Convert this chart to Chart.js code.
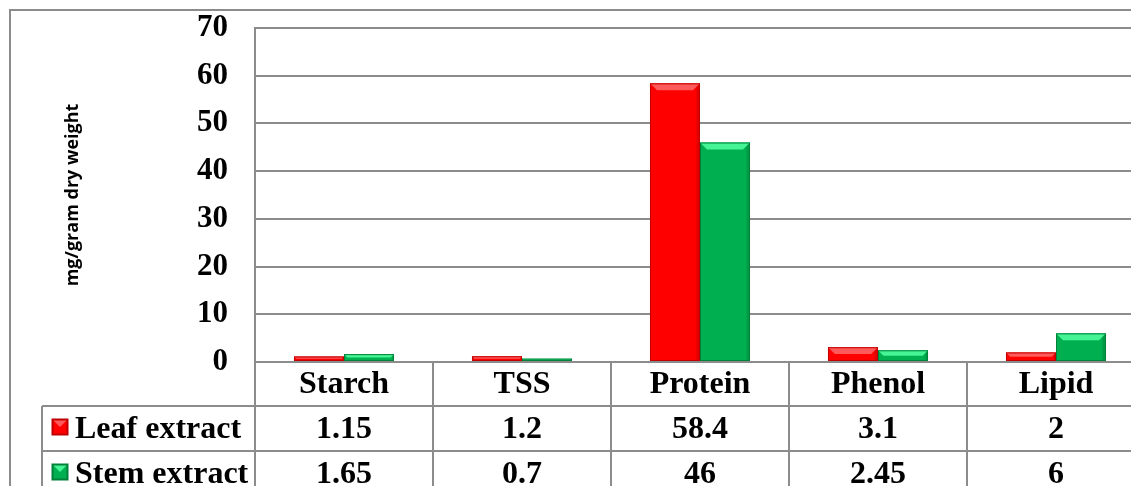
<!DOCTYPE html>
<html>
<head>
<meta charset="utf-8">
<title>mg/gram dry weight</title>
<script src="https://cdn.jsdelivr.net/npm/chart.js@4/dist/chart.umd.min.js"></script>
<style>
  html, body { margin: 0; padding: 0; background: #fff; overflow: hidden; }
  #wrap { width: 1131px; height: 486px; overflow: hidden; }
</style>
</head>
<body>
<div id="wrap"><canvas id="chart" width="1150" height="486"></canvas></div>
<script>
const categories = ['Starch', 'TSS', 'Protein', 'Phenol', 'Lipid'];
const leafValues = [1.15, 1.2, 58.4, 3.1, 2];
const stemValues = [1.65, 0.7, 46, 2.45, 6];
const seriesNames = ['Leaf extract', 'Stem extract'];
const yTicks = [0, 10, 20, 30, 40, 50, 60, 70];

const LINE = '#8c8c8c';
const SERIF = '"Liberation Serif", "Times New Roman", serif';
const colors = [
  { fill: '#ff0000', light: '#ff5a5a', dark: '#c00000' },
  { fill: '#00b050', light: '#45f595', dark: '#00803a' }
];

// bevel look on top of each bar
const bevelPlugin = {
  id: 'bevel',
  afterDatasetsDraw(chart) {
    const ctx = chart.ctx;
    chart.data.datasets.forEach((ds, di) => {
      const c = colors[di];
      chart.getDatasetMeta(di).data.forEach(bar => {
        const l = bar.x - bar.width / 2, r = bar.x + bar.width / 2;
        const t = bar.y, b = bar.base;
        const h = b - t;
        const bv = Math.min(7, h / 2, bar.width / 4);
        ctx.save();
        ctx.fillStyle = c.light;
        ctx.beginPath();
        ctx.moveTo(l, t); ctx.lineTo(r, t); ctx.lineTo(r - bv, t + bv); ctx.lineTo(l + bv, t + bv);
        ctx.closePath(); ctx.fill();
        ctx.fillStyle = 'rgba(0,0,0,0.12)';
        ctx.beginPath();
        ctx.moveTo(r, t); ctx.lineTo(r, b); ctx.lineTo(r - bv / 2, b); ctx.lineTo(r - bv / 2, t + bv / 2);
        ctx.closePath(); ctx.fill();
        ctx.strokeStyle = c.dark;
        ctx.lineWidth = 1;
        ctx.strokeRect(l + 0.5, t + 0.5, bar.width - 1, h - 1);
        ctx.restore();
      });
    });
  }
};

function legendKey(ctx, x, y, s, c) {
  ctx.fillStyle = c.fill;
  ctx.fillRect(x, y, s, s);
  ctx.fillStyle = c.light;
  ctx.beginPath();
  ctx.moveTo(x, y); ctx.lineTo(x + s, y); ctx.lineTo(x + s / 2, y + s / 2);
  ctx.closePath(); ctx.fill();
  ctx.strokeStyle = c.dark;
  ctx.strokeRect(x + 0.5, y + 0.5, s - 1, s - 1);
}

// data table under the plot + outer frame
const tablePlugin = {
  id: 'dataTable',
  afterDraw(chart) {
    const ctx = chart.ctx;
    const area = chart.chartArea;
    const xs = chart.scales.x;
    const H = chart.height;
    const row1 = area.bottom + 44, row2 = row1 + 45;
    const keyLeft = 42;
    const bounds = [area.left];
    for (let i = 0; i < categories.length - 1; i++) {
      bounds.push((xs.getPixelForValue(i) + xs.getPixelForValue(i + 1)) / 2);
    }
    bounds.push(area.right);

    ctx.save();
    ctx.strokeStyle = LINE;
    ctx.lineWidth = 2;
    ctx.beginPath();
    ctx.moveTo(keyLeft, row1); ctx.lineTo(area.right, row1);
    ctx.moveTo(keyLeft, row2); ctx.lineTo(area.right, row2);
    ctx.moveTo(keyLeft, row1); ctx.lineTo(keyLeft, H);
    bounds.forEach(bx => { ctx.moveTo(bx, area.bottom); ctx.lineTo(bx, H); });
    ctx.moveTo(area.left, area.top); ctx.lineTo(area.left, H);
    ctx.stroke();

    // outer frame
    ctx.beginPath();
    ctx.moveTo(10, H); ctx.lineTo(10, 10); ctx.lineTo(chart.width, 10);
    ctx.stroke();

    ctx.font = 'bold 32px ' + SERIF;
    ctx.textBaseline = 'alphabetic';
    const rows = [[leafValues, row1 + 32], [stemValues, row2 + 32]];
    rows.forEach(([vals, base], ri) => {
      legendKey(ctx, 52, base - 19, 16, colors[ri]);
      ctx.fillStyle = '#000';
      ctx.textAlign = 'left';
      ctx.fillText(seriesNames[ri], 75, base);
      ctx.textAlign = 'center';
      vals.forEach((v, i) => {
        ctx.fillText(String(v), xs.getPixelForValue(i), base);
      });
    });
    ctx.restore();
  }
};

new Chart(document.getElementById('chart'), {
  type: 'bar',
  data: {
    labels: categories,
    datasets: [
      { label: seriesNames[0], data: leafValues, backgroundColor: colors[0].fill },
      { label: seriesNames[1], data: stemValues, backgroundColor: colors[1].fill }
    ]
  },
  options: {
    responsive: false,
    animation: false,
    devicePixelRatio: 1,
    layout: { padding: { top: 28, left: 10, right: 5, bottom: 0 } },
    datasets: { bar: { categoryPercentage: 0.562, barPercentage: 1 } },
    plugins: { legend: { display: false }, tooltip: { enabled: false } },
    scales: {
      x: {
        grid: { display: false },
        border: { display: false },
        ticks: { color: '#000', font: { family: SERIF, size: 32, weight: 'bold', lineHeight: 1 }, padding: -1 },
        afterFit(scale) { scale.height = 124; }
      },
      y: {
        min: 0,
        max: 70,
        afterBuildTicks(scale) { scale.ticks = yTicks.map(v => ({ value: v })); },
        grid: { color: LINE, lineWidth: 2, drawTicks: false },
        border: { color: LINE, width: 2 },
        ticks: { color: '#000', font: { family: SERIF, size: 31, weight: 'bold', lineHeight: 1 }, padding: 27 },
        title: {
          display: true,
          text: 'mg/gram dry weight',
          color: '#000',
          font: { family: '"Open Sans", sans-serif', size: 18, weight: 'bold' },
          padding: { top: 52, bottom: 0 }
        },
        afterFit(scale) {
          scale.width = 245;
          scale.paddingTop = 0;
          scale.paddingBottom = 0;
        }
      }
    }
  },
  plugins: [bevelPlugin, tablePlugin]
});
</script>
</body>
</html>
